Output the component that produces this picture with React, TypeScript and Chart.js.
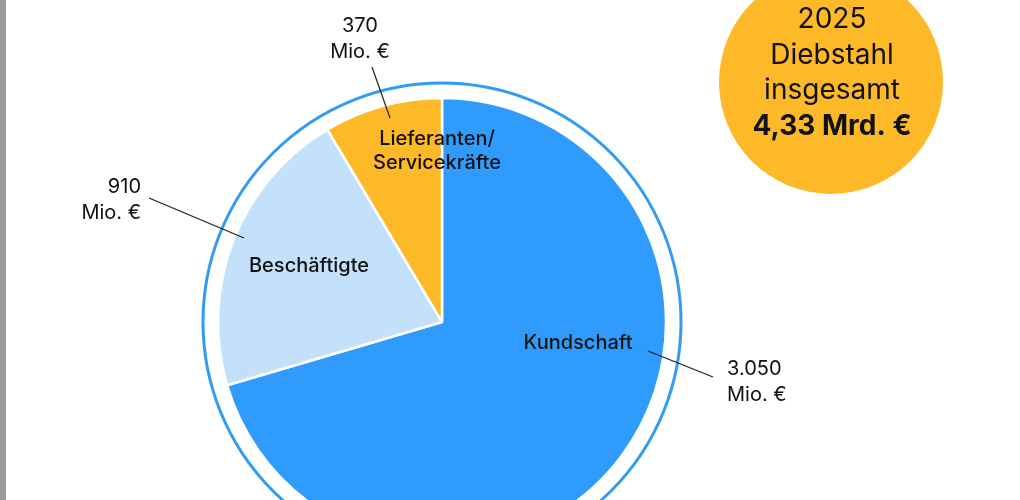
import { useEffect, useRef } from "react";
import { Chart, registerables } from "chart.js";

Chart.register(...registerables);

// Theft losses by group of perpetrators, in million euros
const categories = ["Kundschaft", "Beschäftigte", "Lieferanten/\nServicekräfte"];
const valuesMio = [3050, 910, 370];
const sliceColors = ["#2F9CFD", "#C3E1FB", "#FDB927"];
const year = "2025";
const unitMio = "Mio. €";
const unitMrd = "Mrd. €";

const FONT = "Inter, 'Noto Sans', sans-serif";
const INK = "#111111";

// Label placement relative to the pie centre (x, y of first baseline)
const innerLabelPos = [
  [136, 27],
  [-133, -50],
  [-5, -177],
];
const valueLabelPos = [
  [285, 53],
  [-301, -129],
  [-82, -290],
];
const valueLabelAlign: CanvasTextAlign[] = ["left", "right", "center"];
const leaderLines = [
  [206, 29, 271, 55],
  [-293, -124, -198, -84],
  [-70, -255, -52, -204],
];

const formatDE = (n: number) =>
  String(Math.round(n)).replace(/\B(?=(\d{3})+(?!\d))/g, ".");

const annotations = {
  id: "pieAnnotations",
  afterDatasetsDraw(chart: Chart) {
    const ctx = chart.ctx;
    const arc: any = chart.getDatasetMeta(0).data[0];
    if (!arc) return;
    const cx = arc.x;
    const cy = arc.y;
    const r = arc.outerRadius;

    ctx.save();
    // outer ring
    ctx.beginPath();
    ctx.arc(cx, cy, r + 15, 0, Math.PI * 2);
    ctx.strokeStyle = "#339BF2";
    ctx.lineWidth = 3;
    ctx.stroke();

    // leader lines
    ctx.strokeStyle = "#222222";
    ctx.lineWidth = 1.2;
    leaderLines.forEach(([x1, y1, x2, y2]) => {
      ctx.beginPath();
      ctx.moveTo(cx + x1, cy + y1);
      ctx.lineTo(cx + x2, cy + y2);
      ctx.stroke();
    });

    ctx.fillStyle = INK;
    ctx.textBaseline = "alphabetic";
    ctx.font = `500 20px ${FONT}`;

    // category names inside the slices
    categories.forEach((name, i) => {
      const [dx, dy] = innerLabelPos[i];
      ctx.textAlign = "center";
      name.split("\n").forEach((line, k) => {
        ctx.fillText(line, cx + dx, cy + dy + k * 24);
      });
    });

    // values outside the pie
    ctx.font = `400 20px ${FONT}`;
    valuesMio.forEach((v, i) => {
      const [dx, dy] = valueLabelPos[i];
      ctx.textAlign = valueLabelAlign[i];
      ctx.fillText(formatDE(v), cx + dx, cy + dy);
      ctx.fillText(unitMio, cx + dx, cy + dy + 26);
    });

    // total badge
    const total = valuesMio.reduce((a, b) => a + b, 0);
    const bx = 831;
    const by = 82;
    ctx.beginPath();
    ctx.arc(bx, by, 112, 0, Math.PI * 2);
    ctx.fillStyle = "#FDB927";
    ctx.fill();
    ctx.fillStyle = INK;
    ctx.textAlign = "center";
    ctx.font = `400 28px ${FONT}`;
    ctx.fillText(year, bx + 1, 28);
    ctx.fillText("Diebstahl", bx + 1, 64);
    ctx.fillText("insgesamt", bx + 1, 99);
    ctx.font = `700 28px ${FONT}`;
    ctx.fillText(
      `${(total / 1000).toFixed(2).replace(".", ",")} ${unitMrd}`,
      bx + 1,
      135
    );
    ctx.restore();
  },
};

export default function App() {
  const canvasRef = useRef<HTMLCanvasElement | null>(null);

  useEffect(() => {
    if (!canvasRef.current) return;
    const chart = new Chart(canvasRef.current, {
      type: "pie",
      data: {
        labels: categories.map((c) => c.replace("\n", " ")),
        datasets: [
          {
            data: valuesMio,
            backgroundColor: sliceColors,
            borderColor: "#ffffff",
            borderWidth: 2.5,
            hoverOffset: 0,
          },
        ],
      },
      options: {
        responsive: false,
        animation: false,
        radius: 224,
        layout: { padding: { left: 218, right: 354, top: 98, bottom: 114 } },
        plugins: {
          legend: { display: false },
          tooltip: { enabled: false },
        },
      },
      plugins: [annotations],
    });
    return () => chart.destroy();
  }, []);

  return (
    <div
      style={{
        position: "fixed",
        left: 0,
        top: 0,
        width: 1020,
        height: 500,
        overflow: "hidden",
        background: "#ffffff",
      }}
    >
      <canvas
        ref={canvasRef}
        width={1020}
        height={660}
        style={{ display: "block", width: 1020, height: 660 }}
      />
      <div
        style={{
          position: "absolute",
          left: 0,
          top: 0,
          width: 6,
          height: 500,
          background: "#9B9B9B",
        }}
      />
    </div>
  );
}
